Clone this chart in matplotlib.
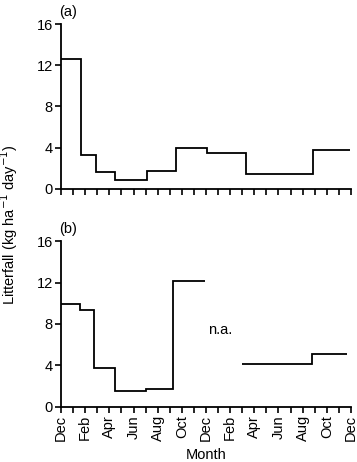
import numpy as np
import matplotlib.pyplot as plt

plt.rcParams['font.family'] = ['Liberation Sans', 'DejaVu Sans']

# months counted from December (0) to December (24)
month_labels = ['Dec', 'Feb', 'Apr', 'Jun', 'Aug', 'Oct', 'Dec',
                'Feb', 'Apr', 'Jun', 'Aug', 'Oct', 'Dec']

# panel (a)
a_edges = [0, 1.66, 2.87, 4.47, 7.09, 9.52, 12.06, 15.31, 20.86, 23.92]
a_vals = [12.6, 3.25, 1.68, 0.83, 1.76, 3.98, 3.52, 1.44, 3.78]

# panel (b), two measured periods with a gap (n.a.)
b1_edges = [0, 1.6, 2.73, 4.5, 7.01, 9.3, 11.9]
b1_vals = [9.93, 9.35, 3.72, 1.47, 1.66, 12.15]
b2_edges = [14.98, 20.78, 23.7]
b2_vals = [4.1, 5.13]

fs = 10.5

fig = plt.figure(figsize=(3.57, 4.62), dpi=100)
ax_a = fig.add_axes([0.171, 0.591, 0.812, 0.357])
ax_b = fig.add_axes([0.171, 0.120, 0.812, 0.358])

ax_a.stairs(a_vals, a_edges, baseline=None, color='black', lw=1.3)
ax_b.stairs(b1_vals, b1_edges, baseline=None, color='black', lw=1.3)
ax_b.stairs(b2_vals, b2_edges, baseline=None, color='black', lw=1.3)
ax_b.text(13.2, 7.4, 'n.a.', fontsize=fs, ha='center', va='center')

for ax, lab in [(ax_a, '(a)'), (ax_b, '(b)')]:
    ax.set_xlim(0, 24)
    ax.set_ylim(0, 16)
    ax.set_yticks([0, 4, 8, 12, 16])
    ax.set_xticks(np.arange(0, 25, 2))
    ax.set_xticks(np.arange(1, 24, 2), minor=True)
    for s in ['top', 'right']:
        ax.spines[s].set_visible(False)
    for s in ['left', 'bottom']:
        ax.spines[s].set_linewidth(1.3)
    ax.tick_params(which='both', direction='out', length=4, width=1.2,
                   labelsize=fs, pad=2)
    ax.text(-0.005, 1.03, lab, transform=ax.transAxes, fontsize=fs,
            ha='left', va='bottom')

ax_a.set_xticklabels([])
ax_b.set_xticklabels(month_labels, rotation=90)
ax_b.set_xlabel('Month', fontsize=fs, labelpad=5)

fig.text(0.027, 0.513, 'Litterfall (kg ha$^{-1}$ day$^{-1}$)', rotation=90,
         fontsize=fs, ha='center', va='center')

fig.savefig('out.png', dpi=100)
